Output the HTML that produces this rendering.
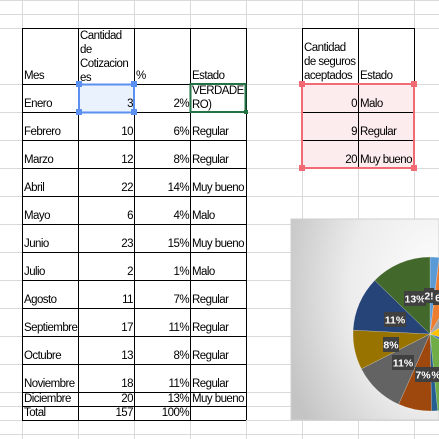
<!DOCTYPE html>
<html><head><meta charset="utf-8"><style>
html,body{margin:0;padding:0;background:#fff;width:439px;height:439px;overflow:hidden;position:relative;font-family:"Liberation Sans",sans-serif;font-size:11.5px;color:#000}
.c{position:absolute;box-sizing:border-box;line-height:14px;padding:0 1px 0 2px;overflow:visible;white-space:nowrap;letter-spacing:-0.55px}
.r{text-align:right}
</style></head><body>
<svg id="s" width="439" height="439" style="position:absolute;left:0;top:0"></svg>
<div id="t"></div>
<script>
var s=document.getElementById('s'),h='';
for(var x=22;x<439;x+=56)h+='<line x1="'+(x+.5)+'" y1="0" x2="'+(x+.5)+'" y2="439" stroke="#dadada"/>';
var ys=[0,14,28,84,112,140,168,196,224,252,280,308,336,364,392,406,420,434];
ys.forEach(function(y){h+='<line x1="0" y1="'+(y+.5)+'" x2="439" y2="'+(y+.5)+'" stroke="#dadada"/>';});
h+='<rect x="78" y="84" width="56" height="28" fill="#eaf2fe"/>';
h+='<rect x="302" y="84" width="112" height="84" fill="#fdeced"/>';
var my=[28,84,112,140,168,196,224,252,280,308,336,364,392,406,420];
my.forEach(function(y){h+='<line x1="22" y1="'+(y+.5)+'" x2="246" y2="'+(y+.5)+'" stroke="#000"/>';});
[22,78,134,190,246].forEach(function(x){h+='<line x1="'+(x+.5)+'" y1="28" x2="'+(x+.5)+'" y2="420" stroke="#000"/>';});
[28,84,112,140,168].forEach(function(y){h+='<line x1="302" y1="'+(y+.5)+'" x2="414" y2="'+(y+.5)+'" stroke="#000"/>';});
[302,358,414].forEach(function(x){h+='<line x1="'+(x+.5)+'" y1="28" x2="'+(x+.5)+'" y2="168" stroke="#000"/>';});
h+='<rect x="79" y="84.5" width="55" height="28" fill="none" stroke="#5b8ff0" stroke-width="2"/>';
[[79,84],[134,84],[79,112],[134,112]].forEach(function(p){h+='<rect x="'+(p[0]-3)+'" y="'+(p[1]-3)+'" width="6" height="6" fill="#5b8ff0"/>';});
h+='<rect x="190.5" y="84" width="55" height="28" fill="none" stroke="#217346" stroke-width="2"/><rect x="244" y="110" width="4" height="4" fill="#217346"/>';
h+='<rect x="302" y="84" width="112" height="84" fill="none" stroke="#f26b74" stroke-width="2"/>';
[[302,84],[414,84],[302,168],[414,168]].forEach(function(p){h+='<rect x="'+(p[0]-3)+'" y="'+(p[1]-3)+'" width="6" height="6" fill="#f26b74"/>';});
h+='<defs><radialGradient id="g" cx="1" cy="0.35" r="1.1"><stop offset="0" stop-color="#ffffff"/><stop offset="0.55" stop-color="#ececec"/><stop offset="1" stop-color="#c4c4c4"/></radialGradient></defs>';
h+='<rect x="291" y="219" width="148" height="201" fill="url(#g)" stroke="#cfcfcf"/>';
var v=[3,10,12,22,6,23,2,11,17,13,18,20],c=['#5b9bd5','#ed7d31','#a5a5a5','#ffc000','#4472c4','#70ad47','#255e91','#9e480e','#636363','#997300','#264478','#43682b'];
var cx=430,cy=334,R=77,a0=0,tot=157;
v.forEach(function(n,i){var a1=a0+n/tot*2*Math.PI;
var x0=cx+R*Math.sin(a0),y0=cy-R*Math.cos(a0),x1=cx+R*Math.sin(a1),y1=cy-R*Math.cos(a1);
h+='<path d="M'+cx+','+cy+' L'+x0+','+y0+' A'+R+','+R+' 0 '+((a1-a0)>Math.PI?1:0)+',1 '+x1+','+y1+'Z" fill="'+c[i]+'" stroke="#fff" stroke-width="0.5" stroke-opacity="0.4"/>';a0=a1;});
var L=[[404,291,'13%',22],[384,312,'11%',22],[383,337,'8%',16],[392,355,'11%',22],[415,367,'7%',16],[431,367,'%',10],[424,288,'2!',10],[433,290,'6',10]];
L.forEach(function(l){h+='<rect x="'+l[0]+'" y="'+l[1]+'" width="'+l[3]+'" height="15" fill="#404040"/><text x="'+(l[0]+l[3]/2)+'" y="'+(l[1]+11.5)+'" fill="#fff" font-size="10.5" font-weight="bold" text-anchor="middle" font-family="Liberation Sans">'+l[2]+'</text>';});
s.innerHTML=h;
var t='',cell=function(x,y,w,txt,cls){t+='<div class="c '+(cls||'')+'" style="left:'+x+'px;top:'+(y-14)+'px;width:'+w+'px;height:14px">'+txt+'</div>';};
cell(22,83,56,'Mes');
t+='<div class="c" style="left:78px;top:29px;width:56px;line-height:14px;white-space:normal">Cantidad<br>de<br>Cotizacion<br>es</div>';
cell(134,83,56,'%');cell(190,83,56,'Estado');
t+='<div class="c" style="left:190px;top:84px;width:56px;line-height:14px">VERDADE<br>RO)</div>';
var rows=[['Enero',3,'2%',''],['Febrero',10,'6%','Regular'],['Marzo',12,'8%','Regular'],['Abril',22,'14%','Muy bueno'],['Mayo',6,'4%','Malo'],['Junio',23,'15%','Muy bueno'],['Julio',2,'1%','Malo'],['Agosto',11,'7%','Regular'],['Septiembre',17,'11%','Regular'],['Octubre',13,'8%','Regular'],['Noviembre',18,'11%','Regular']];
rows.forEach(function(r,i){var y=111+i*28;cell(22,y,56,r[0]);cell(78,y,56,r[1],'r');cell(134,y,56,r[2],'r');if(r[3])cell(190,y,56,r[3]);});
cell(22,406,56,'Diciembre');cell(78,406,56,'20','r');cell(134,406,56,'13%','r');cell(190,406,56,'Muy bueno');
cell(22,420,56,'Total');cell(78,420,56,'157','r');cell(134,420,56,'100%','r');
t+='<div class="c" style="left:302px;top:41px;width:56px;line-height:14px">Cantidad<br>de seguros<br>aceptados</div>';
cell(358,83,56,'Estado');
[['0','Malo'],['9','Regular'],['20','Muy bueno']].forEach(function(r,i){var y=111+i*28;cell(302,y,56,r[0],'r');cell(358,y,56,r[1]);});
document.getElementById('t').innerHTML=t;
</script>
</body></html>
